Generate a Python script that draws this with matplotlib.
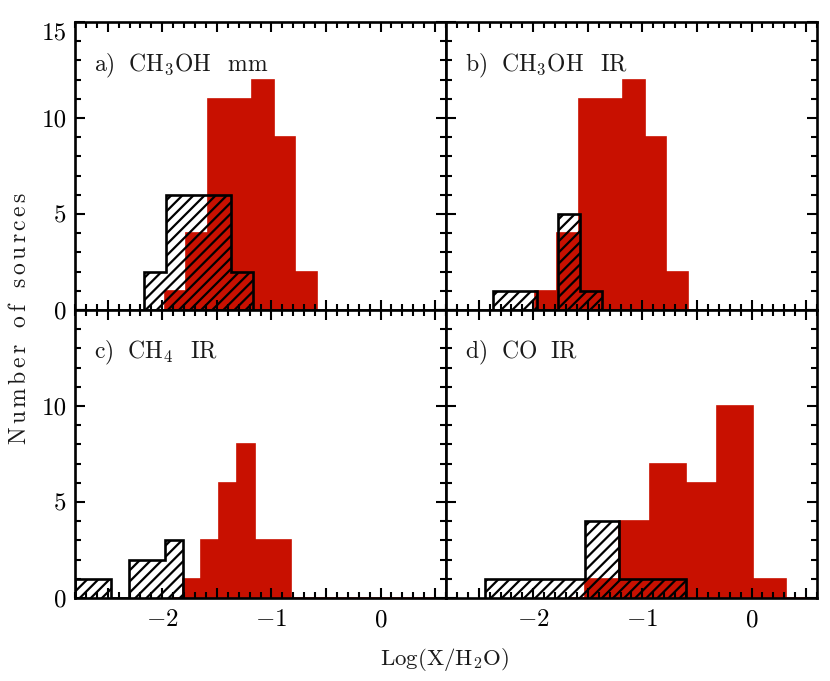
import matplotlib
matplotlib.use("Agg")
import matplotlib.pyplot as plt
from matplotlib.ticker import MultipleLocator, FuncFormatter

plt.rcParams['font.family'] = ['cmr10', 'DejaVu Serif']
plt.rcParams['mathtext.fontset'] = 'cm'
plt.rcParams['axes.unicode_minus'] = False
plt.rcParams['hatch.linewidth'] = 1.6

ROUGE = '#c81000'

# panel a) CH3OH mm
a_red_edges = [-1.98, -1.78, -1.58, -1.38, -1.18, -0.98, -0.78, -0.58]
a_red_counts = [1, 4, 11, 11, 12, 9, 2]
a_blk_edges = [-2.17, -1.97, -1.77, -1.57, -1.37, -1.17]
a_blk_counts = [2, 6, 6, 6, 2]

# panel b) CH3OH IR
b_red_edges = [-1.98, -1.78, -1.58, -1.38, -1.18, -0.98, -0.78, -0.58]
b_red_counts = [1, 4, 11, 11, 12, 9, 2]
b_blk_edges = [-2.37, -2.17, -1.97, -1.77, -1.57, -1.37]
b_blk_counts = [1, 1, 0, 5, 1]

# panel c) CH4 IR
c_red_edges = [-1.90, -1.81, -1.645, -1.48, -1.315, -1.15, -0.985, -0.82, 0.6]
c_red_counts = [0, 1, 3, 6, 8, 3, 3, 0]
c_blk_edges = [-2.80, -2.635, -2.47, -2.305, -2.14, -1.975, -1.81]
c_blk_counts = [1, 1, 0, 2, 2, 3]

# panel d) CO IR
d_red_edges = [-1.66, -1.53, -1.21, -0.93, -0.60, -0.32, 0.015, 0.32, 0.6]
d_red_counts = [0, 1, 4, 7, 6, 10, 1, 0]
d_blk_edges = [-2.44, -2.135, -1.83, -1.53, -1.21, -0.905, -0.60]
d_blk_counts = [1, 1, 1, 4, 1, 1]

titres = [r'$\mathrm{a)\ \ CH_3OH\ \ \,mm}$',
          r'$\mathrm{b)\ \ CH_3OH\ \ \,IR}$',
          r'$\mathrm{c)\ \ CH_4\ \ \,IR}$',
          r'$\mathrm{d)\ \ CO\ \ IR}$']

fig = plt.figure(figsize=(8.3, 6.81), dpi=100)
axes = fig.subplots(2, 2)
fig.subplots_adjust(left=0.0904, right=0.9843, top=0.9677, bottom=0.1219,
                    wspace=0, hspace=0)

data = [(a_red_counts, a_red_edges, a_blk_counts, a_blk_edges),
        (b_red_counts, b_red_edges, b_blk_counts, b_blk_edges),
        (c_red_counts, c_red_edges, c_blk_counts, c_blk_edges),
        (d_red_counts, d_red_edges, d_blk_counts, d_blk_edges)]


def fmt_x(v, pos):
    if abs(v - round(v)) < 1e-6:
        return r'$%d$' % int(round(v))
    return ''


for i, ax in enumerate(axes.flat):
    rc, re_, bc, be = data[i]
    ax.stairs(rc, re_, fill=True, facecolor=ROUGE, edgecolor=ROUGE, linewidth=1.2)
    ax.stairs(bc, be, fill=True, facecolor='none', edgecolor='black',
              hatch='///', linewidth=1.9)
    ax.set_xlim(-2.8, 0.6)
    ax.set_ylim(0, 15)
    ax.xaxis.set_major_locator(MultipleLocator(0.5))
    ax.xaxis.set_minor_locator(MultipleLocator(0.1))
    ax.xaxis.set_major_formatter(FuncFormatter(fmt_x))
    ax.yaxis.set_minor_locator(MultipleLocator(1))
    ax.tick_params(which='both', direction='in', top=True, right=True,
                   width=1.5, labelsize=18)
    ax.tick_params(which='major', length=7.5)
    ax.tick_params(which='minor', length=4)
    ax.tick_params(axis='y', pad=6)
    ax.tick_params(axis='x', pad=8)
    for s in ax.spines.values():
        s.set_linewidth(1.9)
    ax.text(0.05, 0.83, titres[i], transform=ax.transAxes, fontsize=17,
            va='baseline', ha='left', color='#1a1a1a')
    if i < 2:
        ax.tick_params(labelbottom=False)
    if i % 2 == 1:
        ax.tick_params(labelleft=False)

axes[0, 0].set_yticks([0, 5, 10, 15], ['0', '5', '10', '15'])
axes[0, 0].get_yticklabels()[-1].set_va('top')
axes[1, 0].set_yticks([0, 5, 10, 15], ['0', '5', '10', ''])
axes[0, 1].set_yticks([0, 5, 10, 15])
axes[1, 1].set_yticks([0, 5, 10, 15])

fig.text(0.024, 0.532,
         r'$\mathrm{N\,u\,m\,b\,e\,r\ \ \,o\,f\ \ \,s\,o\,u\,r\,c\,e\,s}$',
         rotation=90, fontsize=17, ha='center', va='center', color='#1a1a1a')
fig.text(0.536, 0.031, r'$\mathrm{Log(X/H_2O)}$', fontsize=16.5,
         ha='center', va='center', color='#1a1a1a')

fig.savefig('out.png', dpi=100)
